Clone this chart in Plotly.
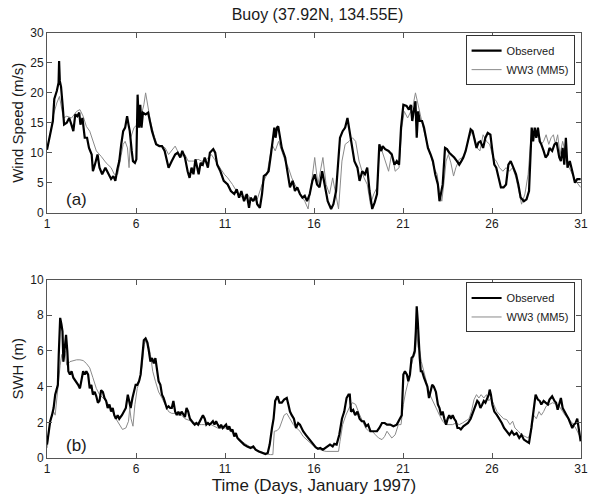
import plotly.graph_objects as go
from plotly.subplots import make_subplots

# ---------------- Data ----------------
ws_obs_t = [1.00,1.18,1.33,1.41,1.55,1.65,1.68,1.72,1.79,1.89,1.96,2.11,2.25,2.37,2.48,2.59,2.70,2.81,2.88,2.99,
            3.12,3.25,3.36,3.51,3.58,3.69,3.84,3.95,4.10,4.28,4.47,4.60,4.73,4.84,4.95,5.06,5.17,5.28,5.39,5.50,
            5.58,5.65,5.76,5.83,5.94,6.02,6.09,6.17,6.24,6.31,6.39,6.54,6.68,6.79,6.90,7.01,7.13,7.31,7.46,7.61,
            7.75,7.83,8.01,8.20,8.34,8.49,8.60,8.75,8.90,9.01,9.12,9.23,9.34,9.45,9.52,9.63,9.75,9.86,10.04,10.15,
            10.34,10.45,10.56,10.74,10.93,
            11.15,11.33,11.52,11.66,11.79,11.92,12.07,12.22,12.35,12.44,12.59,12.72,12.81,12.96,13.08,13.18,13.32,
            13.45,13.58,13.69,13.77,13.84,13.92,13.99,14.06,14.19,14.38,14.51,14.65,14.80,14.93,15.06,15.21,15.35,
            15.48,15.61,15.76,15.91,16.04,16.17,16.31,16.46,16.59,16.77,16.96,17.09,17.24,17.35,17.46,17.61,17.75,
            17.88,17.97,18.12,18.27,18.44,18.56,18.71,18.86,18.99,19.12,19.27,19.41,19.54,19.67,19.78,19.86,20.00,
            20.19,20.37,20.52,20.65,20.78,
            20.89,21.02,21.20,21.33,21.44,21.52,21.63,21.70,21.77,21.85,21.94,22.07,22.18,22.31,22.40,22.55,22.68,
            22.81,22.96,23.05,23.14,23.23,23.36,23.47,23.60,23.73,23.88,24.03,24.16,24.28,24.39,24.52,24.65,24.80,
            24.91,25.02,25.13,25.24,25.35,25.50,25.63,25.76,25.91,26.02,26.13,26.24,26.37,26.50,26.65,26.79,26.92,
            27.05,27.20,27.35,27.48,27.61,27.79,27.94,28.08,28.16,28.23,28.31,28.40,28.49,28.58,28.68,28.77,28.90,
            29.01,29.14,29.23,29.38,29.51,29.63,29.78,29.87,29.97,30.06,30.15,30.24,30.37,30.51,30.66,30.79,30.98]
ws_obs_v = [10.5,13,15.3,19,20.3,21.7,25.3,22,21,17.5,14.7,15,15.8,14.7,13.6,16.4,16.1,16.7,14.7,15.8,
            12.5,12.5,10.8,9.7,6.9,8,9.7,7.5,6.4,7.5,6.4,5.6,6.1,5.3,7.2,8.6,11.4,13.6,14.2,16.1,
            14.7,13.6,10.3,8.6,8.3,8.9,19.7,14.2,18,14.2,16.7,16.4,16.7,15,13.6,12.5,11.4,11.1,11.1,10.3,
            8.6,7.5,8.6,9.7,10,9.2,10.3,9.2,6.9,5.8,7.5,6.4,8.9,7.5,6.4,8.3,8,9.2,7.5,10,
            10.6,10,8,6.9,5.3,
            4.7,3.6,3.1,3.9,2.5,3.6,1.9,3.1,0.8,2.5,1.9,2.8,1.4,0.8,3.1,6.1,6.4,
            6.9,9.7,12.5,14.2,12.5,14.2,14.4,13,10.8,9.2,6.4,4.2,5.3,3.6,4.2,3.1,2.5,
            2.8,1.9,3.1,5.3,6.4,4.7,4.2,6.9,4.7,1.9,0.6,1.4,3.6,7.5,12.5,13.6,14.2,
            15.8,14.2,11.4,8.6,7.5,5.3,6.9,6.4,7.5,3.6,0.6,1.7,3.1,11.4,10.3,11.1,10.6,
            10.3,9.7,8,8.6,8,
            14.2,18,17.8,17.2,18,15.3,17.5,18.6,12.5,16.9,15.3,15.3,14.2,11.9,10.8,9.7,8.6,
            6.4,4.7,1.9,3.1,4.7,10.8,10.6,10,9.7,9.2,8.6,8,8.6,9.2,10.3,11.9,13.9,
            13.6,11.9,10.8,11.7,11.9,10.8,12.5,13.3,13,10.3,8,7.5,5.8,4.2,4.2,4.7,8,
            8.6,7.5,6.4,4.7,2.5,1.9,2.2,3.6,8.6,14.2,11.9,14.2,12.5,14.2,11.9,11.4,10.3,
            9.2,9.7,10.8,10.3,11.4,11.7,9.2,8.6,10.8,8,12.5,7.5,8.6,6.9,5,5.6,5.6]

ws_mod_t = [1.00,1.18,1.37,1.55,1.70,1.83,1.92,2.11,2.38,2.66,2.85,3.03,3.21,3.40,3.58,3.77,4.04,4.32,4.60,4.78,
            4.97,5.15,5.28,5.39,5.52,5.61,5.70,5.89,6.07,6.26,6.44,6.54,6.68,6.81,7.00,7.18,7.46,7.64,7.83,8.01,
            8.20,8.38,8.56,8.75,8.93,9.12,9.30,9.49,9.67,9.86,10.04,10.23,10.41,10.59,10.78,10.96,
            11.15,11.42,11.70,11.98,12.25,12.53,12.81,13.08,13.36,13.64,13.82,14.01,14.19,14.38,14.56,14.75,14.93,
            15.11,15.30,15.48,15.67,15.85,16.04,16.22,16.50,16.68,16.87,17.05,17.20,17.38,17.57,17.75,17.97,18.16,
            18.34,18.53,18.81,18.99,19.17,19.36,19.54,19.67,19.82,20.00,20.19,20.37,20.56,20.78,
            20.93,21.07,21.26,21.44,21.57,21.70,21.85,22.03,22.18,22.37,22.55,22.73,22.92,23.05,23.18,23.29,23.42,
            23.55,23.69,23.84,23.97,24.16,24.34,24.52,24.71,24.89,25.02,25.17,25.32,25.50,25.69,25.87,26.06,26.24,
            26.42,26.61,26.79,26.98,27.16,27.35,27.53,27.66,27.85,28.03,28.16,28.31,28.45,28.64,28.77,28.90,29.04,
            29.19,29.32,29.45,29.56,29.69,29.82,29.97,30.15,30.34,30.51,30.70,30.98]
ws_mod_v = [10.6,13,16.4,18.3,19.4,17.5,15.8,16.1,15.8,16.9,17.2,16.1,14.4,13.6,11.9,10.3,9.4,8.3,7.5,6.4,
            6.4,9.7,11.4,11.9,10.8,7.5,12.5,14.2,14.7,15.8,18,20,17.5,15.3,13,11.4,11.1,10.8,9.7,10.3,
            11.1,10,9.4,9.7,8.6,8.6,8.6,8.9,8.6,8.6,9.2,9.7,8.9,8,7.2,6.4,
            5.8,4.7,3.3,2.5,3.1,1.9,2.2,4.7,6.4,11.4,10.3,11.9,10.3,8.6,7.5,5.8,4.7,
            3.6,2.8,1.9,0.6,4.7,9.2,4.7,9.2,4.7,3.1,5.8,3.1,0.6,8.6,11.4,11.9,12.5,
            11.9,8.6,5.8,4.7,1.4,3.1,4.2,10.3,10.3,8.6,6.9,10,6.9,7.5,
            14.2,16.9,15.8,16.9,18,20,18,15.3,13.6,11.4,9.7,7.5,6.4,3.1,1.9,4.7,8.6,
            9.7,8.3,6.1,7.5,8.9,9.2,10.3,12.5,13.6,12.5,10.8,10.3,13,11.9,11.4,9.2,8.6,
            7.5,6.9,7.5,6.9,7.5,5.8,3.1,1.4,3.1,6.4,11.4,13.6,12.5,13,11.4,11.9,13,
            11.4,12.5,13,11.4,13,9.7,11.9,9.7,7.5,6.4,5.3,4.2]

swh_obs_t = [1.00,1.09,1.18,1.28,1.37,1.46,1.55,1.61,1.66,1.74,1.81,1.87,1.92,2.00,2.07,2.14,2.20,2.29,2.38,2.48,
             2.62,2.75,2.85,2.94,3.03,3.12,3.21,3.31,3.40,3.49,3.58,3.68,3.77,3.86,3.95,4.04,4.14,4.23,4.32,4.41,
             4.51,4.60,4.69,4.78,4.87,4.97,5.06,5.21,5.34,5.43,5.54,5.61,5.70,5.80,5.89,5.98,6.07,6.17,6.26,6.35,
             6.44,6.54,6.63,6.72,6.81,6.90,7.00,7.09,7.18,7.27,7.37,7.46,7.55,7.64,7.73,7.83,7.92,8.01,8.10,8.20,
             8.29,8.38,8.47,8.56,8.66,8.75,8.84,8.93,9.03,9.12,9.21,9.30,9.39,9.49,9.58,9.67,9.76,9.86,9.95,10.04,
             10.13,10.23,10.32,10.41,10.50,10.59,10.69,10.78,10.87,
             11.06,11.15,11.24,11.33,11.42,11.52,11.61,11.70,11.79,11.89,12.07,12.25,12.44,12.59,12.72,12.90,13.08,
             13.27,13.40,13.51,13.64,13.73,13.82,13.95,14.06,14.19,14.32,14.47,14.56,14.65,14.75,14.87,14.99,15.11,
             15.21,15.30,15.39,15.54,15.67,15.80,15.94,16.09,16.22,16.35,16.50,16.65,16.77,16.90,17.05,17.14,17.27,
             17.42,17.57,17.70,17.83,17.94,18.01,18.08,18.20,18.31,18.44,18.56,18.68,18.80,18.93,19.04,19.17,19.36,
             19.54,19.67,19.82,19.97,20.10,20.28,20.46,20.65,
             20.82,20.93,21.02,21.11,21.22,21.30,21.39,21.48,21.57,21.66,21.72,21.77,21.83,21.89,21.94,22.00,22.07,
             22.18,22.27,22.37,22.46,22.55,22.64,22.73,22.85,22.96,23.05,23.14,23.23,23.32,23.42,23.51,23.60,23.69,
             23.79,23.88,23.97,24.06,24.16,24.25,24.39,24.52,24.65,24.80,24.95,25.08,25.17,25.26,25.35,25.45,25.54,
             25.63,25.72,25.82,25.87,25.94,26.02,26.13,26.28,26.42,26.55,26.68,26.83,26.98,27.11,27.24,27.38,27.53,
             27.66,27.79,27.94,28.08,28.21,28.34,28.45,28.58,28.68,28.77,28.90,29.01,29.14,29.23,29.38,29.51,29.60,
             29.69,29.78,29.87,29.97,30.06,30.19,30.30,30.41,30.51,30.60,30.70,30.79,30.88,30.98]
swh_obs_v = [0.75,1.3,2.06,2.4,2.8,3.55,3.9,4.1,5.8,7.85,7.5,7.1,5.4,6.2,6.9,6.0,4.86,4.67,4.86,4.5,
             4.3,4.1,3.9,4.3,4.86,4.67,4.86,4.67,3.9,4.1,3.55,3.7,3.46,3.1,3.2,3.8,3.7,3.36,3.2,2.8,
             3.0,2.6,2.8,2.4,2.2,2.4,2.2,2.4,2.6,2.8,3.55,3.2,2.8,3.36,3.7,4.1,4.1,4.3,4.67,5.6,
             6.6,6.7,6.5,6.0,5.4,5.6,5.3,5.6,4.86,4.3,4.1,3.55,3.36,3.0,2.8,2.9,2.8,2.8,3.2,2.6,
             2.4,2.6,2.4,2.6,2.4,2.3,2.8,2.6,2.2,2.06,1.96,1.87,1.96,1.87,2.06,2.2,2.4,2.2,1.87,1.96,
             1.87,1.96,2.06,1.87,2.06,1.87,1.68,1.87,1.68,
             1.87,1.6,1.78,1.5,1.6,1.2,1.4,1.12,1.03,0.93,0.75,0.65,0.56,0.65,0.47,0.37,0.28,
             0.22,0.28,0.75,1.68,2.2,3.2,3.46,3.1,3.1,3.27,3.36,3.0,2.6,2.4,2.2,1.68,1.96,
             1.87,1.68,1.5,1.3,1.12,0.93,0.75,0.6,0.52,0.56,0.47,0.56,0.65,0.75,0.65,0.79,0.75,
             1.3,2.2,2.6,3.36,3.55,3.55,2.6,2.7,2.4,2.6,2.2,2.06,2.06,1.78,1.87,1.5,1.5,
             1.5,1.68,1.96,1.96,1.87,1.87,1.78,1.87,
             2.2,2.4,4.67,4.86,4.67,4.3,4.67,5.6,5.7,6.0,7.1,8.5,7.66,6.0,5.6,4.86,4.86,
             4.5,4.3,4.0,3.36,3.7,4.1,4.0,3.7,3.0,2.8,2.4,2.6,2.2,1.87,2.2,2.4,2.2,
             2.4,2.2,2.06,1.68,1.68,1.6,1.78,1.87,1.96,2.2,2.6,3.0,3.2,3.1,2.8,3.0,3.2,
             3.1,3.36,3.55,3.83,3.55,3.0,2.6,2.4,2.2,1.96,1.68,1.5,1.3,1.5,1.3,1.4,1.12,
             1.3,1.03,0.93,0.84,1.68,2.6,3.55,3.27,3.2,3.0,3.2,3.1,3.0,3.27,3.46,3.2,3.1,
             2.7,3.0,3.36,2.8,2.6,2.4,2.2,1.96,1.68,1.87,1.96,2.2,1.68,0.93]

swh_mod_t = [1.00,1.15,1.28,1.37,1.46,1.55,1.65,1.74,1.83,1.92,2.01,2.11,2.29,2.48,2.66,2.85,3.03,3.21,3.40,3.58,
             3.77,3.95,4.14,4.32,4.51,4.69,4.87,5.06,5.24,5.43,5.58,5.65,5.72,5.83,5.94,6.07,6.20,6.35,6.46,6.57,
             6.68,6.81,6.94,7.09,7.27,7.46,7.64,7.83,8.01,8.20,8.38,8.56,8.75,8.93,9.12,9.30,9.49,9.67,9.86,10.04,
             10.23,10.41,10.59,10.78,
             11.15,11.33,11.52,11.70,11.89,12.07,12.25,12.44,12.62,12.81,12.99,13.18,13.36,13.55,13.69,13.77,13.92,
             14.06,14.19,14.32,14.47,14.65,14.84,15.02,15.21,15.39,15.58,15.76,15.94,16.13,16.31,16.50,16.68,16.96,
             17.24,17.38,17.46,17.61,17.79,17.97,18.16,18.34,18.53,18.71,18.90,19.08,19.27,19.45,19.63,19.82,19.97,
             20.10,20.23,20.37,20.56,20.74,
             20.89,21.02,21.15,21.30,21.44,21.57,21.70,21.77,21.85,21.94,22.03,22.18,22.31,22.44,22.59,22.73,22.86,
             23.05,23.23,23.42,23.60,23.79,23.97,24.16,24.34,24.52,24.71,24.84,24.99,25.13,25.26,25.39,25.54,25.69,
             25.82,25.94,26.09,26.28,26.46,26.65,26.83,27.01,27.16,27.29,27.48,27.66,27.85,28.03,28.21,28.34,28.49,
             28.64,28.77,28.90,29.04,29.23,29.41,29.60,29.78,29.97,30.15,30.34,30.51,30.70,30.88,30.98]
swh_mod_v = [0.56,1.87,2.4,2.6,2.4,3.36,4.3,5.2,5.8,5.4,6.0,5.2,5.4,5.46,5.5,5.5,5.46,5.3,5.05,4.5,
             3.9,3.55,3.36,3.2,2.9,2.6,2.2,1.87,1.6,1.68,2.06,2.8,2.2,1.78,3.0,3.9,4.3,5.2,6.36,6.6,
             6.45,5.8,4.86,4.3,3.7,3.36,3.0,2.6,2.5,2.5,2.4,2.4,2.2,2.15,2.06,1.96,1.87,1.87,1.87,1.96,
             1.87,1.78,1.68,1.68,
             1.68,1.5,1.3,1.12,0.93,0.84,0.71,0.6,0.52,0.41,0.37,0.28,0.22,0.19,0.19,1.5,1.53,
             1.68,2.06,2.4,2.5,2.2,1.87,1.68,1.5,1.21,1.03,0.84,0.71,0.56,0.47,0.41,0.37,0.37,
             0.37,0.37,0.93,1.87,2.4,2.8,3.1,3.0,2.5,2.06,1.68,1.5,1.5,1.3,1.12,1.03,1.21,
             1.5,1.3,1.12,1.3,1.87,
             1.87,3.0,3.7,4.3,5.05,5.6,5.9,7.1,6.2,6.0,5.4,4.86,4.3,3.7,3.36,3.0,2.8,
             2.4,2.06,1.87,1.87,1.87,1.96,1.87,1.96,2.06,2.2,2.6,3.27,3.55,3.36,3.55,3.36,3.55,
             3.2,3.36,3.0,2.6,2.4,2.2,2.15,1.87,2.06,1.68,1.5,1.3,1.21,1.12,1.5,2.4,2.2,
             2.6,2.4,2.6,2.9,3.0,3.1,3.0,2.9,2.6,2.34,2.15,1.96,1.68,1.3,1.12]

x_ticks = [1, 6, 11, 16, 21, 26, 31]
ws_ticks = [0, 5, 10, 15, 20, 25, 30]
swh_ticks = [0, 2, 4, 6, 8, 10]

OBS_NAME = "Observed"
MOD_NAME = "WW3 (MM5)"

# ---------------- Figure ----------------
fig = make_subplots(rows=2, cols=1, vertical_spacing=0.0)

font_family = "Liberation Sans, Arial, Helvetica, sans-serif"
GRAY = "#8a8a8a"
TXT = "#1a1a1a"

fig.add_trace(go.Scatter(x=ws_mod_t, y=ws_mod_v, mode="lines", name=MOD_NAME,
                         line=dict(color=GRAY, width=1), legend="legend", legendrank=2), row=1, col=1)
fig.add_trace(go.Scatter(x=ws_obs_t, y=ws_obs_v, mode="lines", name=OBS_NAME,
                         line=dict(color="black", width=2.2), legend="legend", legendrank=1), row=1, col=1)
fig.add_trace(go.Scatter(x=swh_mod_t, y=swh_mod_v, mode="lines", name=MOD_NAME,
                         line=dict(color=GRAY, width=1), legend="legend2", legendrank=2), row=2, col=1)
fig.add_trace(go.Scatter(x=swh_obs_t, y=swh_obs_v, mode="lines", name=OBS_NAME,
                         line=dict(color="black", width=2.2), legend="legend2", legendrank=1), row=2, col=1)

axis_common = dict(showline=True, linecolor="#555", linewidth=1, mirror="ticks",
                   ticks="inside", ticklen=5, tickcolor="#555", showgrid=False, zeroline=False,
                   ticklabeloverflow="allow",
                   tickfont=dict(size=12, color=TXT, family=font_family))

fig.update_xaxes(range=[1, 31], tickvals=x_ticks, ticktext=[str(v) for v in x_ticks], **axis_common)
fig.update_yaxes(**axis_common)

fig.update_layout(
    xaxis=dict(domain=[0, 1]),
    yaxis=dict(domain=[0.5775, 1.0], range=[0, 30], tickvals=ws_ticks,
               title=dict(text="Wind Speed (m/s)", font=dict(size=15, family=font_family, color=TXT), standoff=2)),
    xaxis2=dict(domain=[0, 1],
                title=dict(text="Time (Days, January 1997)", font=dict(size=17, family=font_family, color=TXT), standoff=1)),
    yaxis2=dict(domain=[0.0, 0.42], range=[0, 10], tickvals=swh_ticks,
                title=dict(text="SWH (m)", font=dict(size=15, family=font_family, color=TXT), standoff=2)),
)

legend_common = dict(xanchor="right", yanchor="top", bgcolor="white", bordercolor="#333", borderwidth=1,
                     font=dict(size=11, family=font_family, color=TXT), tracegroupgap=0, itemwidth=30)
fig.update_layout(
    legend=dict(x=0.988, y=0.995, **legend_common),
    legend2=dict(x=0.988, y=0.413, **legend_common),
)

fig.add_annotation(x=2.66, y=2.25, xref="x", yref="y", text="(a)", showarrow=False,
                   font=dict(size=17, family=font_family, color=TXT))
fig.add_annotation(x=2.68, y=0.72, xref="x2", yref="y2", text="(b)", showarrow=False,
                   font=dict(size=17, family=font_family, color=TXT))

fig.update_layout(
    title=dict(text="Buoy (37.92N, 134.55E)", x=0.5345, xanchor="center", y=0.97, yanchor="middle",
               font=dict(size=16, family=font_family, color=TXT)),
    width=594, height=495,
    margin=dict(l=47, r=6, t=33, b=36),
    plot_bgcolor="white", paper_bgcolor="white",
    showlegend=True,
    hovermode=False,
)

fig.write_html("out.html", config={"displayModeBar": False},
               post_script="document.body.style.margin='0';document.body.style.overflow='hidden';")
